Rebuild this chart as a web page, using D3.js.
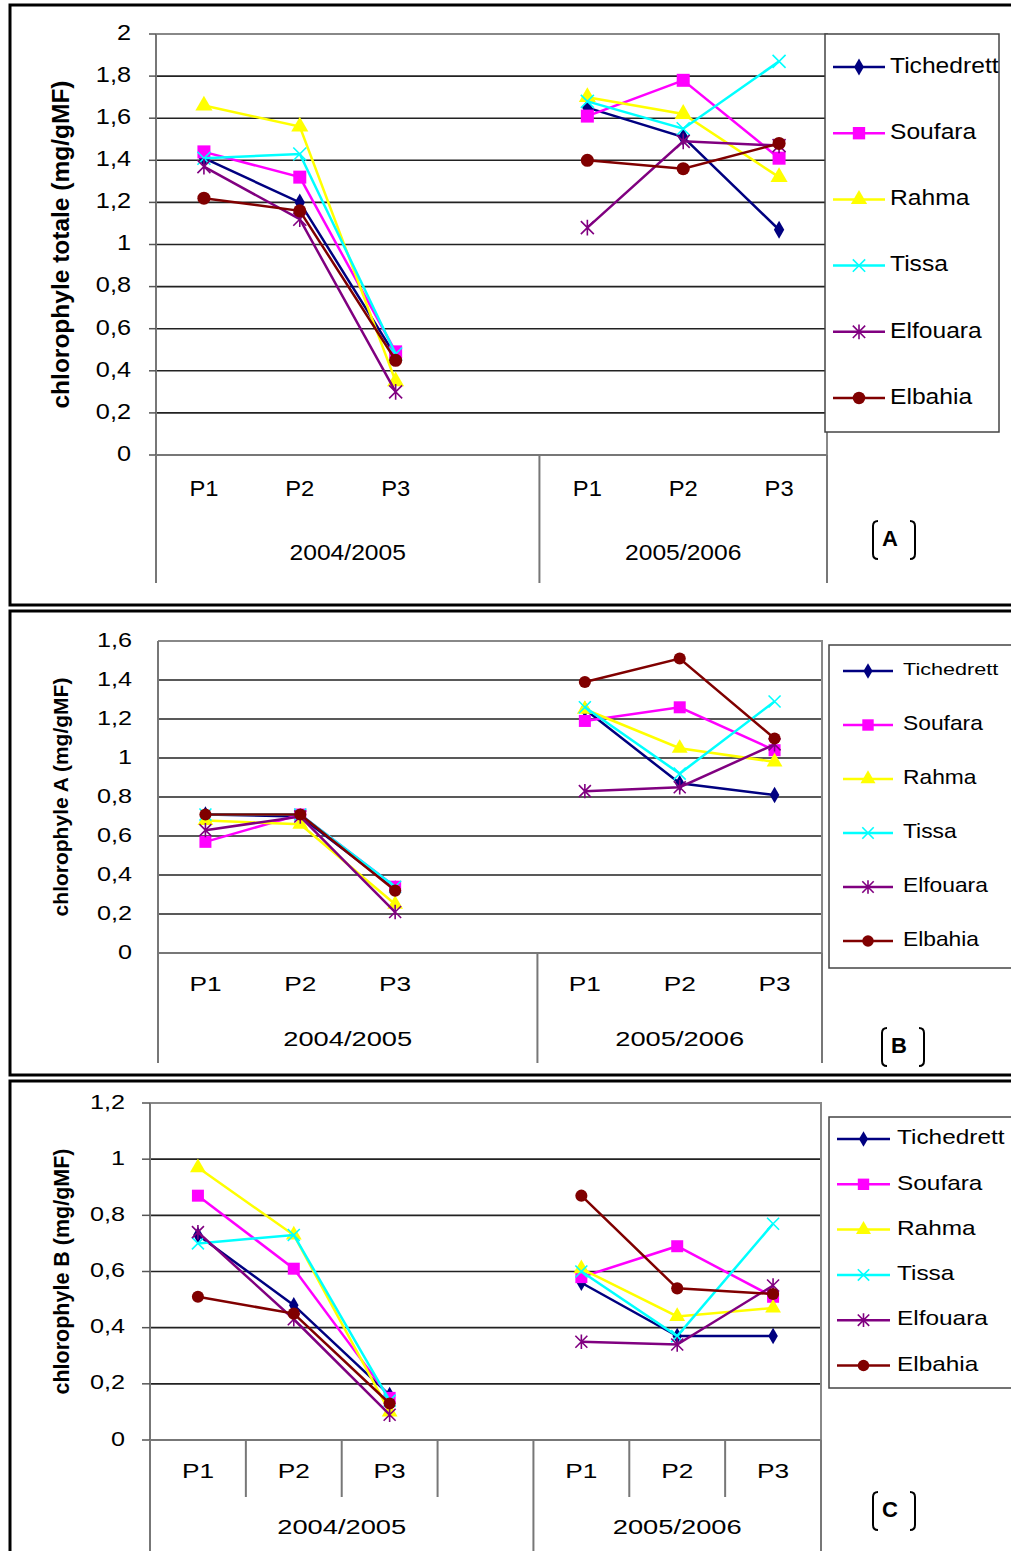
<!DOCTYPE html>
<html>
<head>
<meta charset="utf-8">
<script src="https://cdn.jsdelivr.net/npm/d3@7"></script>
<style>
  body { margin: 0; background: #fff; }
  text { font-family: "Liberation Sans", Arial, sans-serif; }
</style>
</head>
<body>
<svg id="chart" width="1011" height="1551"></svg>
<script>
// categories on the x axis (blank slot separates the two seasons)
const categories = ['P1', 'P2', 'P3', '', 'P1', 'P2', 'P3'];
const seasons = ['2004/2005', '2005/2006'];
const varieties = ['Tichedrett', 'Soufara', 'Rahma', 'Tissa', 'Elfouara', 'Elbahia'];
const colors = ['#000080', '#ff00ff', '#ffff00', '#00ffff', '#800080', '#800000'];
const markers = ['diamond', 'square', 'triangle', 'x', 'star', 'circle'];

// chlorophylle totale (mg/gMF), one row per variety
const chlTotale = [
  [1.41, 1.20, 0.47, null, 1.65, 1.51, 1.07],
  [1.44, 1.32, 0.49, null, 1.61, 1.78, 1.41],
  [1.66, 1.56, 0.35, null, 1.70, 1.62, 1.32],
  [1.41, 1.43, 0.48, null, 1.68, 1.55, 1.87],
  [1.37, 1.12, 0.30, null, 1.08, 1.49, 1.47],
  [1.22, 1.16, 0.45, null, 1.40, 1.36, 1.48]
];

// chlorophylle A (mg/gMF)
const chlA = [
  [0.71, 0.70, 0.33, null, 1.25, 0.87, 0.81],
  [0.57, 0.71, 0.34, null, 1.19, 1.26, 1.04],
  [0.68, 0.66, 0.25, null, 1.25, 1.05, 0.98],
  [0.71, 0.71, 0.34, null, 1.26, 0.92, 1.29],
  [0.63, 0.70, 0.21, null, 0.83, 0.85, 1.07],
  [0.71, 0.71, 0.32, null, 1.39, 1.51, 1.10]
];

// chlorophylle B (mg/gMF)
const chlB = [
  [0.73, 0.48, 0.16, null, 0.56, 0.37, 0.37],
  [0.87, 0.61, 0.15, null, 0.58, 0.69, 0.51],
  [0.97, 0.73, 0.10, null, 0.61, 0.44, 0.47],
  [0.70, 0.73, 0.14, null, 0.60, 0.37, 0.77],
  [0.74, 0.43, 0.09, null, 0.35, 0.34, 0.55],
  [0.51, 0.45, 0.13, null, 0.87, 0.54, 0.52]
];

const yTicksTotale = [0, 0.2, 0.4, 0.6, 0.8, 1, 1.2, 1.4, 1.6, 1.8, 2];
const yTicksA = [0, 0.2, 0.4, 0.6, 0.8, 1, 1.2, 1.4, 1.6];
const yTicksB = [0, 0.2, 0.4, 0.6, 0.8, 1, 1.2];

const svg = d3.select('#chart');
const fmt = v => String(+v.toFixed(1)).replace('.', ',');

// text stretched horizontally, like the scanned original
function stext(g, x, y, str, size, sx, anchor, bold) {
  return g.append('text')
    .attr('transform', `translate(${x},${y}) scale(${sx},1)`)
    .attr('text-anchor', anchor || 'start')
    .attr('dominant-baseline', 'middle')
    .attr('font-size', size)
    .attr('font-weight', bold ? 'bold' : 'normal')
    .text(str);
}

function drawMarker(g, type, x, y, color, s) {
  if (type === 'x' || type === 'star') {
    const r = s * 0.5;
    g.append('path')
      .attr('d', `M${x - r},${y - r}L${x + r},${y + r}M${x - r},${y + r}L${x + r},${y - r}` +
        (type === 'star' ? `M${x},${y - r * 1.2}L${x},${y + r * 1.2}` : ''))
      .attr('stroke', color).attr('stroke-width', 1.6).attr('fill', 'none');
    return;
  }
  const sym = { diamond: d3.symbolDiamond, square: d3.symbolSquare, triangle: d3.symbolTriangle, circle: d3.symbolCircle }[type];
  const size = { diamond: s * s * 0.55, square: s * s, triangle: s * s * 0.75, circle: s * s * 0.8 }[type];
  g.append('path')
    .attr('d', d3.symbol(sym, size)())
    .attr('transform', `translate(${x},${y})`)
    .attr('fill', color);
}

function drawPanel(p) {
  const g = svg.append('g');

  // outer frame
  g.append('rect')
    .attr('x', 10).attr('y', p.top).attr('width', 1010).attr('height', p.bottom - p.top)
    .attr('fill', 'none').attr('stroke', '#000').attr('stroke-width', 3);

  const y = d3.scaleLinear().domain([0, p.ticks[p.ticks.length - 1]]).range([p.plotB, p.plotT]);
  const x = d3.scaleBand().domain(d3.range(categories.length)).range([p.plotL, p.plotR]);
  const cx = i => x(i) + x.bandwidth() / 2;

  // gridlines
  g.selectAll('.grid').data(p.ticks.slice(1, -1)).enter().append('line')
    .attr('x1', p.plotL).attr('x2', p.plotR)
    .attr('y1', d => y(d)).attr('y2', d => y(d))
    .attr('stroke', '#222').attr('stroke-width', 1.6);

  // plot area border (top / right) and axes
  g.append('path')
    .attr('d', `M${p.plotL},${p.plotT}H${p.plotR}V${p.plotB}`)
    .attr('fill', 'none').attr('stroke', '#888').attr('stroke-width', 2);
  g.append('line').attr('x1', p.plotL).attr('x2', p.plotR).attr('y1', p.plotB).attr('y2', p.plotB)
    .attr('stroke', '#777').attr('stroke-width', 2);
  g.append('line').attr('x1', p.plotL).attr('x2', p.plotL).attr('y1', p.plotT).attr('y2', p.sepBottom)
    .attr('stroke', '#777').attr('stroke-width', 2);

  // y ticks and labels
  p.ticks.forEach(t => {
    if (p.tickOut) {
      g.append('line').attr('x1', p.plotL - p.tickOut).attr('x2', p.plotL)
        .attr('y1', y(t)).attr('y2', y(t)).attr('stroke', '#555').attr('stroke-width', 1.5);
    }
    stext(g, p.tickRight, y(t), fmt(t), p.fontSize, p.tickSx, 'end');
  });

  // y title
  g.append('text')
    .attr('transform', `translate(${p.titleX},${(p.plotT + p.plotB) / 2}) rotate(-90)`)
    .attr('text-anchor', 'middle').attr('dominant-baseline', 'middle')
    .attr('font-size', p.titleSize).attr('font-weight', 'bold')
    .text(p.title);

  // category labels
  categories.forEach((c, i) => stext(g, cx(i), p.catY, c, p.fontSize, p.catSx, 'middle'));

  // season separators and labels
  const sepIdx = [0, 4, 7];
  const sepX = i => (i === 7 ? p.plotR : x(i));
  sepIdx.forEach(i => {
    g.append('line').attr('x1', sepX(i)).attr('x2', sepX(i)).attr('y1', p.plotB).attr('y2', p.sepBottom)
      .attr('stroke', '#777').attr('stroke-width', 2);
  });
  if (p.innerSeps) {
    [1, 2, 3, 5, 6].forEach(i => {
      g.append('line').attr('x1', x(i)).attr('x2', x(i)).attr('y1', p.plotB).attr('y2', p.innerBottom)
        .attr('stroke', '#777').attr('stroke-width', 2);
    });
  }
  seasons.forEach((s, k) => {
    const xm = (sepX(sepIdx[k]) + sepX(sepIdx[k + 1])) / 2;
    stext(g, xm, p.grpY, s, p.fontSize, p.grpSx, 'middle');
  });

  // series
  const line = d3.line().defined(d => d != null).x((d, i) => cx(i)).y(d => y(d));
  p.data.forEach((vals, k) => {
    const sg = g.append('g');
    sg.append('path').attr('d', line(vals))
      .attr('fill', 'none').attr('stroke', colors[k]).attr('stroke-width', 2.5);
    vals.forEach((v, i) => {
      if (v != null) drawMarker(sg, markers[k], cx(i), y(v), colors[k], p.markerSize);
    });
  });

  // legend
  const L = p.legend;
  g.append('rect').attr('x', L.x).attr('y', L.y).attr('width', L.w).attr('height', L.h)
    .attr('fill', '#fff').attr('stroke', '#444').attr('stroke-width', 1.5);
  const lg = g.append('g');
  varieties.forEach((name, k) => {
    const ly = L.y0 + k * L.dy;
    lg.append('line').attr('x1', L.lx1).attr('x2', L.lx2).attr('y1', ly).attr('y2', ly)
      .attr('stroke', colors[k]).attr('stroke-width', 2.5);
    drawMarker(lg, markers[k], (L.lx1 + L.lx2) / 2, ly, colors[k], p.markerSize * 0.95);
    const first = k === 0 && L.firstSize;
    stext(lg, L.tx, ly, name, first ? L.firstSize : L.fontSize, first ? L.firstSx : L.sx, 'start');
  });

  // panel tag with brackets
  const t = p.tag;
  g.append('path')
    .attr('d', `M${t.x - 12},${t.y - 19}q-5,0 -5,5v28q0,5 5,5M${t.x + 20},${t.y - 19}q5,0 5,5v28q0,5 -5,5`)
    .attr('fill', 'none').attr('stroke', '#000').attr('stroke-width', 2);
  g.append('text').attr('x', t.x).attr('y', t.y).attr('text-anchor', 'middle')
    .attr('dominant-baseline', 'middle').attr('font-size', 22).attr('font-weight', 'bold').text(t.label);
}

drawPanel({
  top: 5, bottom: 605, plotL: 156, plotR: 827, plotT: 34, plotB: 455,
  ticks: yTicksTotale, data: chlTotale, tickOut: 7, tickRight: 131, fontSize: 22,
  tickSx: 1.15, catSx: 1.08, grpSx: 1.12,
  title: 'chlorophyle totale (mg/gMF)', titleX: 63, titleSize: 24.5,
  catY: 490, grpY: 554, sepBottom: 583, innerSeps: false, markerSize: 13,
  legend: { x: 825, y: 34, w: 174, h: 398, y0: 67, dy: 66.2, lx1: 833, lx2: 885, tx: 890, fontSize: 22, sx: 1.12 },
  tag: { x: 890, y: 540, label: 'A' }
});

drawPanel({
  top: 611, bottom: 1075, plotL: 158, plotR: 822, plotT: 641, plotB: 953,
  ticks: yTicksA, data: chlA, tickOut: 0, tickRight: 132, fontSize: 21,
  tickSx: 1.2, catSx: 1.25, grpSx: 1.3,
  title: 'chlorophyle A (mg/gMF)', titleX: 62, titleSize: 21,
  catY: 985, grpY: 1040, sepBottom: 1063, innerSeps: false, markerSize: 12,
  legend: { x: 829, y: 645, w: 190, h: 323, y0: 671, dy: 54, lx1: 843, lx2: 893, tx: 903, fontSize: 20, sx: 1.14, firstSize: 16, firstSx: 1.35 },
  tag: { x: 899, y: 1047, label: 'B' }
});

drawPanel({
  top: 1081, bottom: 1575, plotL: 150, plotR: 821, plotT: 1103, plotB: 1440,
  ticks: yTicksB, data: chlB, tickOut: 8, tickRight: 125, fontSize: 21,
  tickSx: 1.2, catSx: 1.25, grpSx: 1.3,
  title: 'chlorophyle B (mg/gMF)', titleX: 63, titleSize: 21.5,
  catY: 1472, grpY: 1528, sepBottom: 1560, innerSeps: true, innerBottom: 1497, markerSize: 12,
  legend: { x: 829, y: 1117, w: 190, h: 271, y0: 1139, dy: 45.3, lx1: 837, lx2: 890, tx: 897, fontSize: 20, sx: 1.22 },
  tag: { x: 890, y: 1511, label: 'C' }
});
</script>
</body>
</html>
